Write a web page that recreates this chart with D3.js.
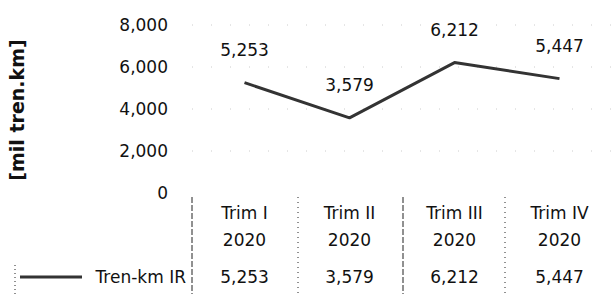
<!DOCTYPE html>
<html>
<head>
<meta charset="utf-8">
<script src="https://cdn.jsdelivr.net/npm/d3@7"></script>
<style>
  body { margin: 0; background: #fff; }
  svg text { font-family: "DejaVu Sans", sans-serif; fill: #111; }
</style>
</head>
<body>
<div id="chart"></div>
<script>
// Data
const categories = ['Trim I', 'Trim II', 'Trim III', 'Trim IV'];
const years = ['2020', '2020', '2020', '2020'];
const seriesName = 'Tren-km IR';
const values = [5253, 3579, 6212, 5447];
const yTicks = [0, 2000, 4000, 6000, 8000];

const width = 611, height = 294;
const fmt = d3.format(',');

const svg = d3.select('#chart')
  .append('svg')
  .attr('width', width)
  .attr('height', height);

// Scales
const x = d3.scaleBand()
  .domain(categories)
  .range([192, 612]);

const y = d3.scaleLinear()
  .domain([0, 8000])
  .range([193, 25]);

// Gridlines (faint dotted)
svg.append('g')
  .selectAll('line')
  .data(yTicks.filter(d => d > 0))
  .enter()
  .append('line')
  .attr('x1', 192).attr('x2', 612)
  .attr('y1', d => y(d)).attr('y2', d => y(d))
  .attr('stroke', '#ccc')
  .attr('stroke-width', 1)
  .attr('stroke-dasharray', '1,18');

// Y axis
const yAxis = svg.append('g')
  .attr('transform', 'translate(168,0)')
  .call(d3.axisLeft(y).tickValues(yTicks).tickFormat(fmt).tickSize(0).tickPadding(0));
yAxis.select('.domain').remove();
yAxis.selectAll('text')
  .style('font-size', '17px')
  .style('font-family', '"DejaVu Sans", sans-serif')
  .attr('fill', '#111');

// Y title
svg.append('text')
  .attr('transform', 'translate(24,110) rotate(-90)')
  .attr('text-anchor', 'middle')
  .style('font-size', '19px')
  .style('font-weight', 'bold')
  .text('[mil tren.km]');

// Line
const line = d3.line()
  .x((d, i) => x(categories[i]) + x.bandwidth() / 2)
  .y(d => y(d));

svg.append('path')
  .datum(values)
  .attr('d', line)
  .attr('fill', 'none')
  .attr('stroke', '#333')
  .attr('stroke-width', 3)
  .attr('stroke-linejoin', 'round');

// Data labels
svg.append('g')
  .selectAll('text')
  .data(values)
  .enter()
  .append('text')
  .attr('x', (d, i) => x(categories[i]) + x.bandwidth() / 2)
  .attr('y', d => y(d) - 27)
  .attr('text-anchor', 'middle')
  .style('font-size', '17px')
  .text(d => fmt(d));

// Data table
const rowY = [219, 246, 283];
const table = svg.append('g');

// vertical borders
const borders = [192, 298, 403, 505];
table.selectAll('line.vb')
  .data(borders)
  .enter()
  .append('line')
  .attr('class', 'vb')
  .attr('x1', d => d).attr('x2', d => d)
  .attr('y1', 197).attr('y2', 294)
  .attr('stroke', '#222')
  .attr('stroke-width', 1)
  .attr('stroke-dasharray', (d, i) => i % 2 === 0 ? '6,2' : '1,4');

table.append('line')
  .attr('x1', 15).attr('x2', 15)
  .attr('y1', 265).attr('y2', 294)
  .attr('stroke', '#222')
  .attr('stroke-dasharray', '1,3');

table.selectAll('text.cat')
  .data(categories)
  .enter()
  .append('text')
  .attr('class', 'cat')
  .attr('x', d => x(d) + x.bandwidth() / 2)
  .attr('y', rowY[0])
  .attr('text-anchor', 'middle')
  .style('font-size', '17px')
  .text(d => d);

table.selectAll('text.yr')
  .data(years)
  .enter()
  .append('text')
  .attr('class', 'yr')
  .attr('x', (d, i) => x(categories[i]) + x.bandwidth() / 2)
  .attr('y', rowY[1])
  .attr('text-anchor', 'middle')
  .style('font-size', '17px')
  .text(d => d);

table.selectAll('text.val')
  .data(values)
  .enter()
  .append('text')
  .attr('class', 'val')
  .attr('x', (d, i) => x(categories[i]) + x.bandwidth() / 2)
  .attr('y', rowY[2])
  .attr('text-anchor', 'middle')
  .style('font-size', '17px')
  .text(d => fmt(d));

// Legend key
table.append('line')
  .attr('x1', 20).attr('x2', 82)
  .attr('y1', 277).attr('y2', 277)
  .attr('stroke', '#333')
  .attr('stroke-width', 3);

table.append('text')
  .attr('x', 186)
  .attr('y', rowY[2])
  .attr('text-anchor', 'end')
  .style('font-size', '17px')
  .text(seriesName);
</script>
</body>
</html>
